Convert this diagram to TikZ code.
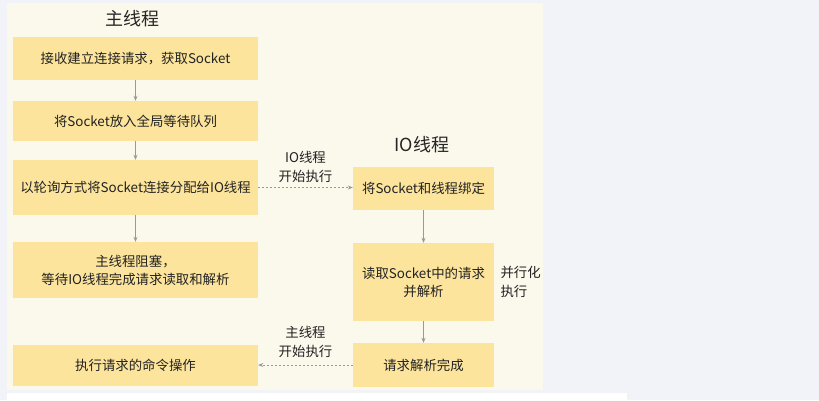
\documentclass[tikz,border=0pt]{standalone}
\usepackage{fontspec}
\setmainfont{Noto Sans CJK SC}
\usetikzlibrary{arrows.meta}
\definecolor{pagebg}{HTML}{F2F3F8}
\definecolor{panelbg}{HTML}{FBF8EC}
\definecolor{boxfill}{HTML}{FCE49C}
\definecolor{linegray}{HTML}{999999}
\definecolor{textdark}{HTML}{222222}
\begin{document}
\begin{tikzpicture}[x=1pt,y=-1pt,
  stepbox/.style={fill=boxfill,draw=none,inner sep=0pt,align=center,
    font=\fontsize{13.4}{18}\selectfont,text=textdark},
  title/.style={font=\fontsize{18}{20}\selectfont,text=black!85},
  note/.style={font=\fontsize{13.4}{19}\selectfont,text=textdark,align=center},
  flow/.style={draw=linegray,line width=0.7pt,-{Stealth[length=5pt,width=4pt]}},
  jump/.style={draw=linegray,line width=0.7pt,dash pattern=on 2pt off 2pt,-{Stealth[length=5pt,width=4pt]}}]
\useasboundingbox (0,0) rectangle (819,400);
\fill[pagebg] (0,0) rectangle (819,400);
\fill[panelbg] (7,3) rectangle (543,390);
\fill[white] (7,393) rectangle (627,400);
% main thread
\node[title] (mtitle) at (132,19) {主线程};
\node[stepbox,minimum width=245pt,minimum height=43pt] (accept) at (135.5,58.5) {接收建立连接请求，获取Socket};
\node[stepbox,minimum width=245pt,minimum height=40pt] (queue) at (135.5,121) {将Socket放入全局等待队列};
\node[stepbox,minimum width=245pt,minimum height=55pt] (assign) at (135.5,187.5) {以轮询方式将Socket连接分配给IO线程};
\node[stepbox,minimum width=245pt,minimum height=56pt] (block) at (135.5,270) {主线程阻塞，\\等待IO线程完成请求读取和解析};
\node[stepbox,minimum width=245pt,minimum height=41pt] (exec) at (135.5,365) {执行请求的命令操作};
% io thread
\node[title] (iotitle) at (422,145) {IO线程};
\node[stepbox,minimum width=141pt,minimum height=43pt] (bind) at (423.5,188.5) {将Socket和线程绑定};
\node[stepbox,minimum width=141pt,minimum height=78pt] (parse) at (423.5,282) {读取Socket中的请求\\并解析};
\node[stepbox,minimum width=141pt,minimum height=44pt] (done) at (423.5,365) {请求解析完成};
\node[note,align=left,anchor=west] (para) at (497,282) {并行化\\执行};
% connectors
\draw[flow] (accept) -- (queue);
\draw[flow] (queue) -- (assign);
\draw[flow] (assign) -- (block);
\draw[flow] (bind) -- (parse);
\draw[flow] (parse) -- (done);
\draw[jump] (assign.east) -- node[note,above=1pt] {IO线程\\开始执行} (bind.west |- assign.east);
\draw[jump] (done.west) -- node[note,above=4pt] {主线程\\开始执行} (exec.east |- done.west);
\end{tikzpicture}
\end{document}
